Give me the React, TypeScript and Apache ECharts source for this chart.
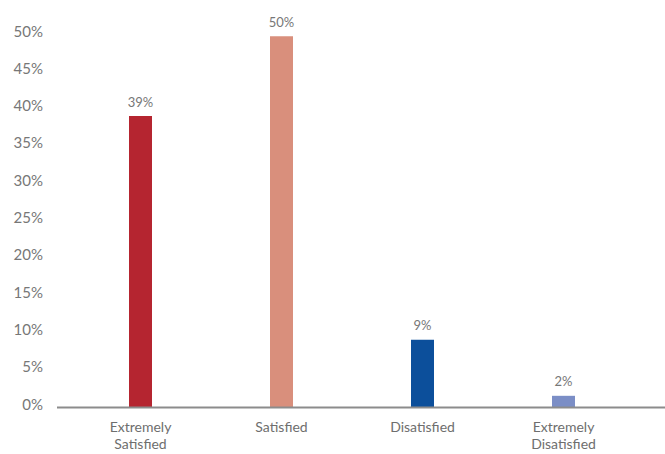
import React, { useEffect, useRef } from "react";
import * as echarts from "echarts";

const categories = ["Extremely\nSatisfied", "Satisfied", "Disatisfied", "Extremely\nDisatisfied"];
const values = [39, 49.7, 9, 1.5];
const barColors = ["#b52530", "#d98f7c", "#0c4f9b", "#7b8ec6"];
const yTicks = [0, 5, 10, 15, 20, 25, 30, 35, 40, 45, 50];

export default function App() {
  const ref = useRef<HTMLDivElement>(null);
  useEffect(() => {
    const chart = echarts.init(ref.current!, null, { renderer: "svg" });
    chart.setOption({
      animation: false,
      textStyle: { fontFamily: "Lato" },
      grid: { left: 70, right: 31, top: 34, bottom: 47 },
      xAxis: {
        type: "category",
        data: categories,
        axisLine: { show: false },
        axisTick: { show: false },
        axisLabel: { color: "#6e6e6e", fontSize: 14, lineHeight: 17, margin: 11, fontFamily: "Lato" },
      },
      yAxis: {
        type: "value",
        min: yTicks[0],
        max: yTicks[yTicks.length - 1],
        interval: 5,
        splitLine: { show: false },
        axisLine: { show: false },
        axisTick: { show: false },
        axisLabel: {
          color: "#777",
          fontSize: 15,
          margin: 27,
          verticalAlign: "bottom",
          lineHeight: 7,
          formatter: (v: number) => `${v}%`,
          fontFamily: "Lato",
        },
      },
      graphic: [
        {
          type: "line",
          shape: { x1: 57, y1: 407.5, x2: 665, y2: 407.5 },
          style: { stroke: "#8c8c8c", lineWidth: 2 },
          z: 10,
        },
      ],
      series: [
        {
          type: "bar",
          barWidth: 23,
          data: values.map((v, i) => ({ value: v, itemStyle: { color: barColors[i] } })),
          label: {
            show: true,
            position: "top",
            distance: 8,
            color: "#777",
            fontSize: 13,
            fontFamily: "Lato",
            formatter: (p: any) => `${Math.round(p.value)}%`,
          },
        },
      ],
    });
    return () => chart.dispose();
  }, []);
  return <div ref={ref} style={{ width: 665, height: 454, position: "absolute", left: 0, top: 0 }} />;
}
